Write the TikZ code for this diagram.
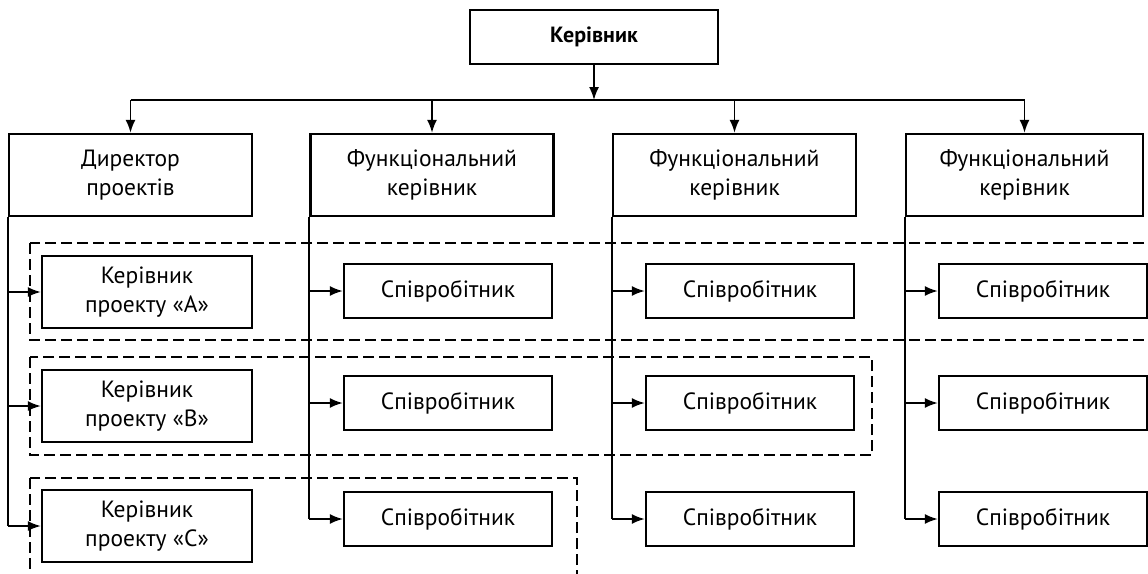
\documentclass[tikz,border=0pt]{standalone}
\usepackage{fontspec}
\setmainfont{PT Sans}
\usetikzlibrary{arrows.meta}

\tikzset{
  box/.style={draw, line width=2.4pt, align=center, inner sep=0pt,
    font=\fontsize{23.5}{29}\selectfont},
  headbox/.style={box, minimum width=243pt, minimum height=82pt},
  pmbox/.style={box, minimum width=210pt, minimum height=72pt},
  empbox/.style={box, minimum width=208pt, minimum height=54pt},
  link/.style={line width=1.7pt},
  arr/.style={link, -{Latex[length=13pt,width=10pt]}},
  group/.style={line width=1.7pt, dash pattern=on 11pt off 5pt}
}

\begin{document}
\begin{tikzpicture}[x=1pt,y=-1pt]
  \clip (0,0) rectangle (1148,573);

  % Top
  \node[box, font=\bfseries\fontsize{22}{26}\selectfont,
    minimum width=248pt, minimum height=54pt] (boss) at (594,37) {Керівник};
  \coordinate (bus) at (594,100);

  % Second level
  \node[headbox] (dir) at (130.5,175) {Директор\\проектів};
  \node[headbox] (fun1) at (432,175) {Функціональний\\керівник};
  \node[headbox] (fun2) at (734.5,175) {Функціональний\\керівник};
  \node[headbox, minimum width=237pt] (fun3) at (1024.5,175) {Функціональний\\керівник};

  \draw[arr] (boss.south) -- (bus);
  \draw[link] (dir.north |- bus) -- (fun3.north |- bus);
  \draw[arr] (dir.north |- bus) -- (dir.north);
  \draw[arr] (fun1.north |- bus) -- (fun1.north);
  \draw[arr] (fun2.north |- bus) -- (fun2.north);
  \draw[arr] (fun3.north |- bus) -- (fun3.north);

  % Project groups
  \draw[group] (30,243) rectangle (1170,340);
  \draw[group] (30,357) rectangle (872,455);
  \draw[group] (30,478) rectangle (577,600);

  % Project managers
  \node[pmbox] (pmA) at (147,292) {Керівник\\проекту «А»};
  \node[pmbox] (pmB) at (147,406) {Керівник\\проекту «В»};
  \node[pmbox] (pmC) at (147,526) {Керівник\\проекту «С»};

  \draw[link] (dir.south west) -- (dir.south west |- pmC.west);
  \draw[arr] (dir.south west |- pmA.west) -- (pmA.west);
  \draw[arr] (dir.south west |- pmB.west) -- (pmB.west);
  \draw[arr] (dir.south west |- pmC.west) -- (pmC.west);

  % Staff
  \node[empbox] (e1a) at (448,291) {Співробітник};
  \node[empbox] (e1b) at (448,403) {Співробітник};
  \node[empbox] (e1c) at (448,519) {Співробітник};
  \node[empbox] (e2a) at (750,291) {Співробітник};
  \node[empbox] (e2b) at (750,403) {Співробітник};
  \node[empbox] (e2c) at (750,519) {Співробітник};
  \node[empbox] (e3a) at (1043,291) {Співробітник};
  \node[empbox] (e3b) at (1043,403) {Співробітник};
  \node[empbox] (e3c) at (1043,519) {Співробітник};

  \draw[link] (fun1.south west) -- (fun1.south west |- e1c.west);
  \draw[arr] (fun1.south west |- e1a.west) -- (e1a.west);
  \draw[arr] (fun1.south west |- e1b.west) -- (e1b.west);
  \draw[arr] (fun1.south west |- e1c.west) -- (e1c.west);

  \draw[link] (fun2.south west) -- (fun2.south west |- e2c.west);
  \draw[arr] (fun2.south west |- e2a.west) -- (e2a.west);
  \draw[arr] (fun2.south west |- e2b.west) -- (e2b.west);
  \draw[arr] (fun2.south west |- e2c.west) -- (e2c.west);

  \draw[link] (fun3.south west) -- (fun3.south west |- e3c.west);
  \draw[arr] (fun3.south west |- e3a.west) -- (e3a.west);
  \draw[arr] (fun3.south west |- e3b.west) -- (e3b.west);
  \draw[arr] (fun3.south west |- e3c.west) -- (e3c.west);
\end{tikzpicture}
\end{document}
